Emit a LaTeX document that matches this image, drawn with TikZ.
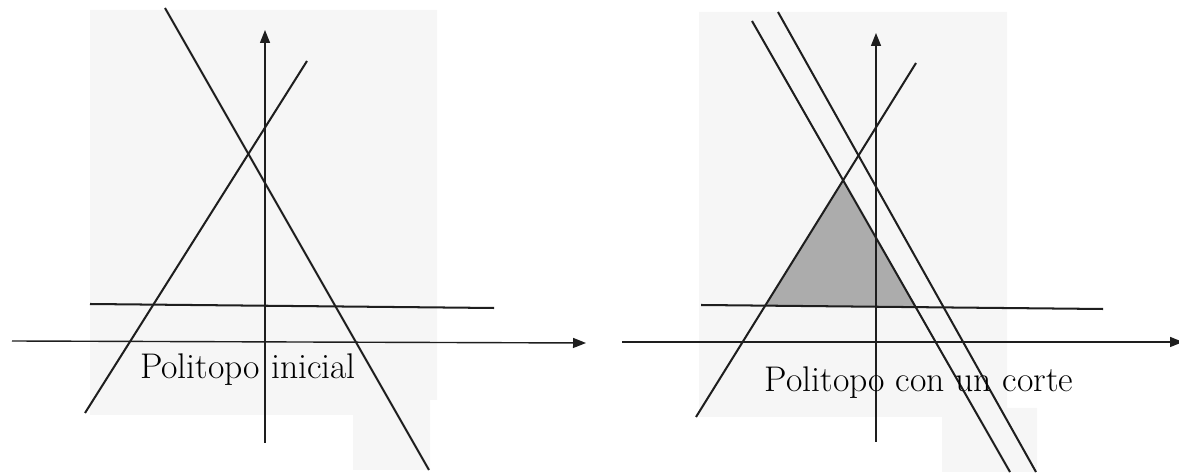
\documentclass[tikz,border=0pt]{standalone}
\usetikzlibrary{arrows.meta}
\definecolor{scan}{RGB}{246,246,246}
\definecolor{cutfill}{RGB}{172,172,172}
\definecolor{ink}{RGB}{30,30,30}
\tikzset{constraint/.style={line width=1.15pt,ink},
  axis/.style={-{Triangle[length=2.6mm,width=2mm]},line width=.8pt,ink},
  caption/.style={font=\fontsize{20.3}{24}\selectfont,anchor=base,inner sep=0pt}}

\begin{document}
\begin{tikzpicture}[x=.02cm,y=-.02cm]
\useasboundingbox (0,0) rectangle (1179,475);
% scanned paper behind each plot
\fill[scan] (90,10) -- (437,10) -- (437,400) -- (430,400) -- (430,470) -- (353,470) -- (353,415) -- (90,415) -- cycle;
\fill[scan] (699,12) -- (1007,12) -- (1007,408) -- (1037,408) -- (1037,472) -- (942,472) -- (942,417) -- (699,417) -- cycle;
% left: initial polytope
\draw[axis] (12,341) -- (586,343);
\draw[axis] (265,443) -- (265,30);
\draw[constraint] (90,304) -- (494,308);
\draw[constraint] (85,413) -- (307,61);
\draw[constraint] (165,8) -- (429,470);
\node[caption] (inicial) at (248,379) {Politopo inicial};
% right: polytope after the cut
\fill[cutfill] (765,306) -- (843,180) -- (916,307) -- cycle;
\draw[axis] (622,342) -- (1183,342);
\draw[axis] (876,442) -- (876,33);
\draw[constraint] (701,305) -- (1103,309);
\draw[constraint] (696,417) -- (916,63);
\draw[constraint] (752,21) -- (1010,472);
\draw[constraint] (778,12) -- (1036,472);
\node[caption] (corte) at (919,392) {Politopo con un corte};
\end{tikzpicture}
\end{document}
